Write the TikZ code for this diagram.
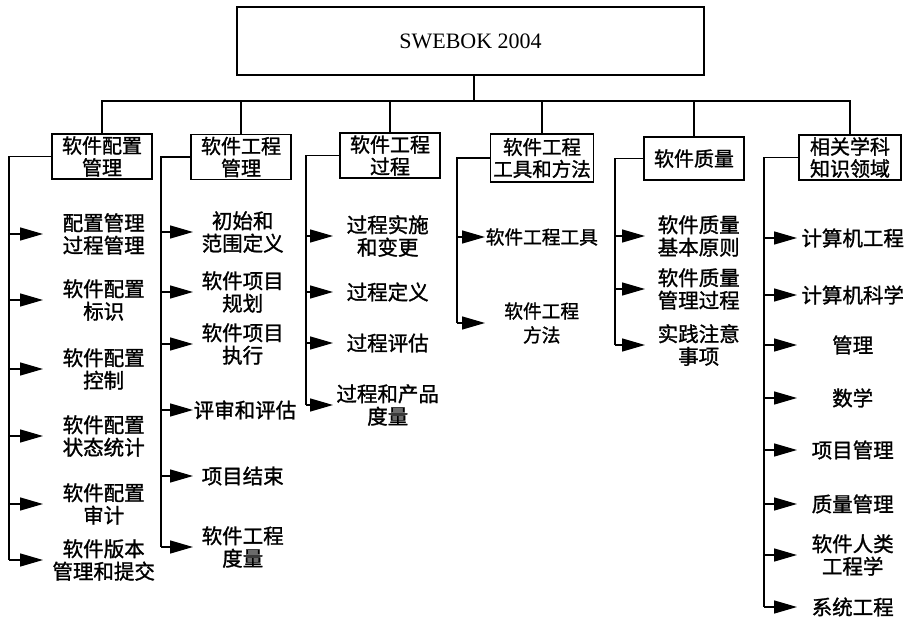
\documentclass[tikz,border=0pt]{standalone}
\usepackage{fontspec}
\setmainfont{Liberation Serif}
\newfontfamily\cjk[FakeBold=1.3]{Noto Sans CJK SC}
\usetikzlibrary{arrows.meta}
\begin{document}
\begin{tikzpicture}[x=1pt,y=-1pt,
  line width=1.4pt,
  topbox/.style={draw,line width=1.6pt,minimum width=467pt,minimum height=68pt,inner sep=0pt,font=\fontsize{22}{24}\selectfont},
  hdr/.style={draw,line width=1.6pt,minimum width=100pt,minimum height=45pt,inner sep=1pt,align=center,font=\cjk\fontsize{20}{22}\selectfont},
  item/.style={anchor=west,inner sep=0pt,align=center,font=\cjk\fontsize{20.5}{22.5}\selectfont},
  arr/.style={-{Triangle[length=23pt,width=13pt]}}
]
\useasboundingbox (0,0) rectangle (910,620);

% top
\node[topbox] (top) at (470.5,41) {SWEBOK 2004};
\coordinate (bus) at (474,101);
\draw (top.south -| bus) -- (bus);

% headers
\node[hdr] (h1) at (102,156.5) {软件配置\\管理};
\node[hdr] (h2) at (241,157) {软件工程\\管理};
\node[hdr] (h3) at (390,155.5) {软件工程\\过程};
\node[hdr,minimum width=103pt,minimum height=48pt,font=\cjk\fontsize{19.5}{22}\selectfont] (h4) at (542,158) {软件工程\\工具和方法};
\node[hdr,minimum height=43pt] (h5) at (694,158.5) {软件质量};
\node[hdr,minimum width=102pt] (h6) at (850,157.5) {相关学科\\知识领域};

\draw (h1.north) -- (h1.north |- bus) -- (h6.north |- bus) -- (h6.north);
\foreach \h in {h2,h3,h4,h5} \draw (\h.north) -- (\h.north |- bus);

% spine x positions
\coordinate (s1) at (9,0);
\coordinate (s2) at (161,0);
\coordinate (s3) at (306,0);
\coordinate (s4) at (457,0);
\coordinate (s5) at (615,0);
\coordinate (s6) at (764,0);

% column 1
\node[item,minimum width=120pt] (a1) at (43,234) {配置管理\\过程管理};
\node[item,minimum width=120pt] (a2) at (43,300) {软件配置\\标识};
\node[item,minimum width=120pt] (a3) at (43,369) {软件配置\\控制};
\node[item,minimum width=120pt] (a4) at (43,436) {软件配置\\状态统计};
\node[item,minimum width=120pt] (a5) at (43,504) {软件配置\\审计};
\node[item,minimum width=120pt] (a6) at (43,560) {软件版本\\管理和提交};
\draw (h1.west) -| (s1 |- a6.west);
\foreach \i in {a1,a2,a3,a4,a5,a6} \draw[arr] (s1 |- \i.west) -- (\i.west);

% column 2
\node[item,minimum width=98pt] (b1) at (193,232) {初始和\\范围定义};
\node[item,minimum width=98pt] (b2) at (193,292) {软件项目\\规划};
\node[item,minimum width=98pt] (b3) at (193,344) {软件项目\\执行};
\node[item,minimum width=98pt] (b4) at (193,410) {评审和评估};
\node[item,minimum width=98pt] (b5) at (193,476) {项目结束};
\node[item,minimum width=98pt] (b6) at (193,547) {软件工程\\度量};
\draw (h2.west) -| (s2 |- b6.west);
\foreach \i in {b1,b2,b3,b4,b5,b6} \draw[arr] (s2 |- \i.west) -- (\i.west);

% column 3
\node[item,minimum width=108pt] (c1) at (333,236) {过程实施\\和变更};
\node[item,minimum width=108pt] (c2) at (333,292) {过程定义};
\node[item,minimum width=108pt] (c3) at (333,343) {过程评估};
\node[item,minimum width=108pt] (c4) at (333,405) {过程和产品\\度量};
\draw (h3.west) -| (s3 |- c4.west);
\foreach \i in {c1,c2,c3,c4} \draw[arr] (s3 |- \i.west) -- (\i.west);

% column 4
\node[item,minimum width=112pt,font=\cjk\fontsize{18.7}{24}\selectfont] (d1) at (485,237) {软件工程工具};
\node[item,minimum width=112pt,font=\cjk\fontsize{18.7}{24}\selectfont] (d2) at (485,323) {软件工程\\方法};
\draw (h4.west) -| (s4 |- d2.west);
\foreach \i in {d1,d2} \draw[arr] (s4 |- \i.west) -- (\i.west);

% column 5
\node[item,minimum width=106pt] (e1) at (645,236) {软件质量\\基本原则};
\node[item,minimum width=106pt] (e2) at (645,289) {软件质量\\管理过程};
\node[item,minimum width=106pt] (e3) at (645,345) {实践注意\\事项};
\draw (h5.west) -| (s5 |- e3.west);
\foreach \i in {e1,e2,e3} \draw[arr] (s5 |- \i.west) -- (\i.west);

% column 6
\node[item,minimum width=110pt] (f1) at (797,238) {计算机工程};
\node[item,minimum width=110pt] (f2) at (797,295) {计算机科学};
\node[item,minimum width=110pt] (f3) at (797,345) {管理};
\node[item,minimum width=110pt] (f4) at (797,398) {数学};
\node[item,minimum width=110pt] (f5) at (797,450) {项目管理};
\node[item,minimum width=110pt] (f6) at (797,504) {质量管理};
\node[item,minimum width=110pt] (f7) at (797,555) {软件人类\\工程学};
\node[item,minimum width=110pt] (f8) at (797,607) {系统工程};
\draw (h6.west) -| (s6 |- f8.west);
\foreach \i in {f1,f2,f3,f4,f5,f6,f7,f8} \draw[arr] (s6 |- \i.west) -- (\i.west);
\end{tikzpicture}
\end{document}
